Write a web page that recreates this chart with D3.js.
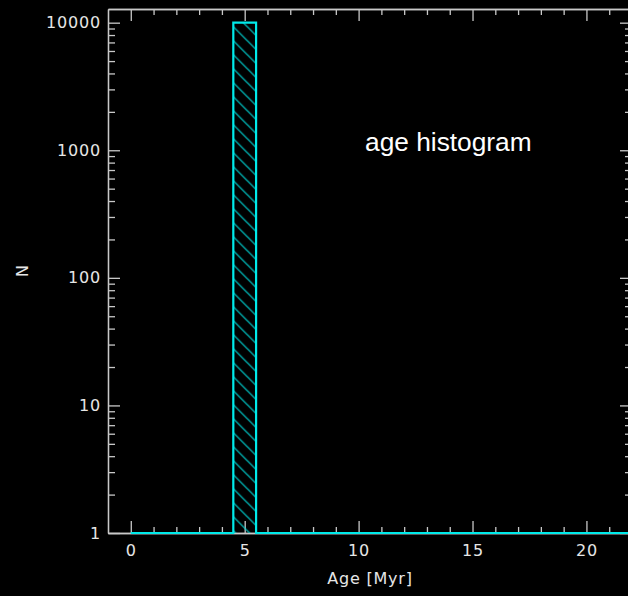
<!DOCTYPE html>
<html>
<head>
<meta charset="utf-8">
<script src="https://cdn.jsdelivr.net/npm/d3@7"></script>
<style>
  html, body { margin: 0; padding: 0; background: #000; }
  svg { display: block; }
  .tick text { font-family: "DejaVu Sans", sans-serif; font-size: 16px; letter-spacing: 0.8px; fill: #e6e6e6; }
</style>
</head>
<body>
<script>
// Age bins (Myr, bin centres) and star counts per bin
const ages = d3.range(0, 23);
const counts = [0, 0, 0, 0, 0, 10000, 0, 0, 0, 0, 0, 0, 0, 0, 0, 0, 0, 0, 0, 0, 0, 0, 0];
const xMajorTicks = [0, 5, 10, 15, 20];
const yMajorTicks = [1, 10, 100, 1000, 10000];
const yTickLabels = ["1", "10", "100", "1000", "10000"];
const title = "age histogram";
const xLabel = "Age [Myr]";
const yLabel = "N";

const W = 628, H = 596;
const plotLeft = 108, plotRight = 632, plotTop = 9, plotBottom = 533;
const axisColor = "#c8c8c8";
const histColor = "#00eaea";

const svg = d3.select("body").append("svg").attr("width", W).attr("height", H);
svg.append("rect").attr("width", W).attr("height", H).attr("fill", "#000");

const x = d3.scaleLinear().domain([-1, 22]).range([plotLeft, plotRight]);
const y = d3.scaleLog().domain([1, 12800]).range([plotBottom, plotTop]);
const yFloor = 1;

const xMinor = d3.range(0, 23).filter(v => !xMajorTicks.includes(v));
const yMinor = [];
for (let d = 1; d <= 10000; d *= 10) for (let k = 2; k <= 9; k++) if (d * k < 12800) yMinor.push(d * k);

function styleAxis(g) {
  g.select(".domain").attr("stroke", axisColor).attr("stroke-width", 1.3);
  g.selectAll(".tick line").attr("stroke", axisColor).attr("stroke-width", 1.3);
}

// bottom axis (ticks pointing inward)
svg.append("g").attr("transform", `translate(0,${plotBottom})`)
  .call(d3.axisBottom(x).tickValues(xMinor).tickSizeInner(-6).tickSizeOuter(0).tickFormat(""))
  .call(styleAxis);
svg.append("g").attr("transform", `translate(0,${plotBottom})`)
  .call(d3.axisBottom(x).tickValues(xMajorTicks).tickSizeInner(-12).tickSizeOuter(0).tickPadding(12).tickFormat(d3.format("d")))
  .call(styleAxis);

// top axis
svg.append("g").attr("transform", `translate(0,${plotTop})`)
  .call(d3.axisBottom(x).tickValues(xMinor).tickSizeInner(6).tickSizeOuter(0).tickFormat(""))
  .call(styleAxis);
svg.append("g").attr("transform", `translate(0,${plotTop})`)
  .call(d3.axisBottom(x).tickValues(xMajorTicks).tickSizeInner(12).tickSizeOuter(0).tickFormat(""))
  .call(styleAxis);

// left axis
svg.append("g").attr("transform", `translate(${plotLeft},0)`)
  .call(d3.axisLeft(y).tickValues(yMinor).tickSizeInner(-7).tickSizeOuter(0).tickFormat(""))
  .call(styleAxis);
svg.append("g").attr("transform", `translate(${plotLeft},0)`)
  .call(d3.axisLeft(y).tickValues(yMajorTicks).tickSizeInner(-12).tickSizeOuter(0).tickPadding(7)
    .tickFormat((d, i) => yTickLabels[i]))
  .call(styleAxis);

// right axis
svg.append("g").attr("transform", `translate(${plotRight},0)`)
  .call(d3.axisRight(y).tickValues(yMinor).tickSizeInner(-7).tickSizeOuter(0).tickFormat(""))
  .call(styleAxis);
svg.append("g").attr("transform", `translate(${plotRight},0)`)
  .call(d3.axisRight(y).tickValues(yMajorTicks).tickSizeInner(-12).tickSizeOuter(0).tickFormat(""))
  .call(styleAxis);

// hatch pattern for filled bins
const defs = svg.append("defs");
const pat = defs.append("pattern").attr("id", "hatch")
  .attr("patternUnits", "userSpaceOnUse").attr("width", 14).attr("height", 14)
  .attr("x", x(4.5)).attr("y", y(10000) + 4);
pat.append("path").attr("d", "M-2,-2 L16,16 M-2,12 L2,16 M12,-2 L16,2")
  .attr("stroke", "#00d4d4").attr("stroke-width", 1.2);

const bins = ages.map((a, i) => ({ x0: a - 0.5, x1: a + 0.5, n: counts[i] }));

// hatched fill for non-empty bins
svg.append("g").selectAll("rect").data(bins.filter(b => b.n > yFloor)).join("rect")
  .attr("x", d => x(d.x0)).attr("width", d => x(d.x1) - x(d.x0))
  .attr("y", d => y(d.n)).attr("height", d => y(yFloor) - y(d.n))
  .attr("fill", "url(#hatch)");

// histogram outline (empty bins sit on the axis floor)
const level = b => y(Math.max(b.n, yFloor));
const pts = [];
bins.forEach((b, i) => {
  const x0 = i === 0 ? x(ages[0]) : x(b.x0);
  pts.push([x0, level(b)]);
  pts.push([x(b.x1), level(b)]);
});
svg.append("path").attr("d", d3.line()(pts))
  .attr("fill", "none").attr("stroke", histColor).attr("stroke-width", 2.2);

// axis titles
svg.append("text").attr("x", (plotLeft + plotRight) / 2).attr("y", 584)
  .attr("text-anchor", "middle").attr("fill", "#e6e6e6")
  .style("font-family", "DejaVu Sans, sans-serif").style("font-size", "16px").style("letter-spacing", "0.8px")
  .text(xLabel);
svg.append("text").attr("transform", `translate(28,${(plotTop + plotBottom) / 2}) rotate(-90)`)
  .attr("text-anchor", "middle").attr("fill", "#e6e6e6")
  .style("font-family", "DejaVu Sans, sans-serif").style("font-size", "16px")
  .text(yLabel);

// annotation
svg.append("text").attr("x", 365).attr("y", 151).attr("fill", "#ffffff")
  .style("font-family", "Liberation Sans, Arial, sans-serif").style("font-size", "26.3px")
  .text(title);
</script>
</body>
</html>
